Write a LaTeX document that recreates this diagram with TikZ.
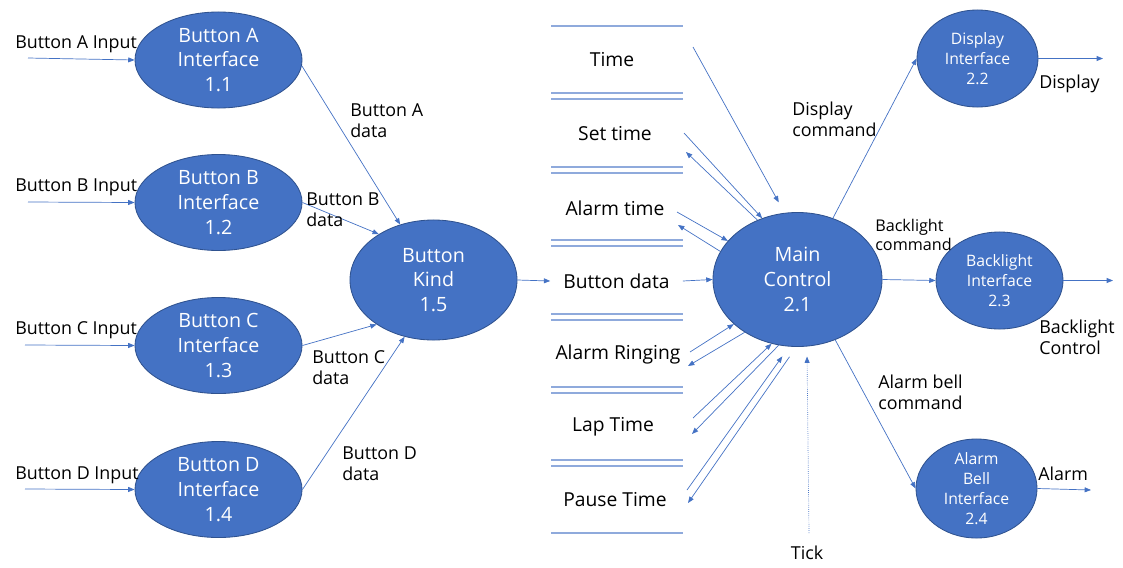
\documentclass[tikz,border=0pt]{standalone}
\usepackage{fontspec}
\setmainfont{Open Sans}
\usetikzlibrary{arrows.meta, shapes.geometric}
\definecolor{procblue}{RGB}{68, 114, 196}
\definecolor{procedge}{RGB}{47, 82, 143}
\definecolor{storeline}{RGB}{143, 170, 220}
\tikzset{
  proc/.style={ellipse, draw=procedge, line width=0.6pt, fill=procblue, inner sep=0pt},
  ifproc/.style={proc, minimum width=4.175cm, minimum height=2.4cm},
  ptext/.style={text=white, align=center, font=\fontsize{14}{17.7}\selectfont},
  sptext/.style={text=white, align=center, font=\fontsize{11.2}{14.2}\selectfont},
  flow/.style={draw=procblue, line width=0.5pt, -{Triangle[length=4.5pt, width=3.5pt]}},
  flabel/.style={align=left, anchor=west, inner sep=0pt, font=\fontsize{12.7}{14.9}\selectfont},
  store/.style={minimum width=3.3cm, inner sep=0pt, font=\fontsize{13.7}{16}\selectfont},
  sline/.style={draw=storeline, line width=0.8pt}
}

\begin{document}
\begin{tikzpicture}[x=0.025cm, y=-0.025cm]
  \useasboundingbox (0, 0) rectangle (1123, 567);

  % Button interfaces
  \node[ifproc, label={[ptext]center:{Button A\\Interface\\1.1}}] (ifA) at (218.5, 60) {};
  \node[ifproc, label={[ptext]center:{Button B\\Interface\\1.2}}] (ifB) at (218.5, 202.5) {};
  \node[ifproc, label={[ptext]center:{Button C\\Interface\\1.3}}] (ifC) at (218.5, 345.5) {};
  \node[ifproc, label={[ptext]center:{Button D\\Interface\\1.4}}] (ifD) at (218.5, 489.5) {};

  % Button kind and main control
  \node[proc, minimum width=4.175cm, minimum height=3cm, label={[ptext]center:{Button\\Kind\\1.5}}] (kind) at (433.5, 280) {};
  \node[proc, minimum width=4.225cm, minimum height=3.35cm, label={[ptext]center:{Main\\Control\\2.1}}] (main) at (797.5, 279.5) {};

  % Output interfaces
  \node[proc, minimum width=3.025cm, minimum height=2.425cm, label={[sptext]center:{Display\\Interface\\2.2}}] (disp) at (977.5, 58.5) {};
  \node[proc, minimum width=3.175cm, minimum height=2.425cm, label={[sptext]center:{Backlight\\Interface\\2.3}}] (back) at (999.5, 280.5) {};
  \node[proc, minimum width=3.025cm, minimum height=2.475cm, label={[sptext]center:{Alarm\\Bell\\Interface\\2.4}}] (bell) at (976.5, 488.5) {};

  % Data stores
  \draw[sline] (551, 26) -- (683, 26);
  \foreach \y in {93, 167, 240, 314, 387, 460} {
    \draw[sline] (551, \y) -- (683, \y);
    \draw[sline] (551, \y+6) -- (683, \y+6);
  }
  \draw[sline] (551, 533) -- (683, 533);
  \node[store] (sTime) at (612, 60) {Time};
  \node[store] (sSet) at (615, 134) {Set time};
  \node[store] (sAlarm) at (615, 208) {Alarm time};
  \node[store] (sData) at (616.5, 281) {Button data};
  \node[store] (sRing) at (618, 354) {Alarm Ringing};
  \node[store] (sLap) at (613, 427) {Lap Time};
  \node[store] (sPause) at (615, 500) {Pause Time};

  % Free ends
  \coordinate (inA) at (28, 58);
  \coordinate (inB) at (28, 202);
  \coordinate (inC) at (25, 345);
  \coordinate (inD) at (25, 489);
  \coordinate (dispOut) at (1103, 58.5);
  \coordinate (backOut) at (1113, 280.5);
  \coordinate (bellOut) at (1091, 490);
  \coordinate (tick) at (809, 533);
  \coordinate (timeOut) at (693, 47);
  \coordinate (setOut) at (684, 133);
  \coordinate (setIn) at (686, 152);
  \coordinate (alarmOut) at (677, 212);
  \coordinate (alarmIn) at (678, 225);
  \coordinate (ringOut) at (690, 352);
  \coordinate (ringIn) at (688, 366);
  \coordinate (lapOut) at (693, 418);
  \coordinate (lapIn) at (692, 434);
  \coordinate (pauseOut) at (687, 490);
  \coordinate (pauseIn) at (688, 503);

  % Inputs
  \draw[flow] (inA) -- (ifA.west);
  \draw[flow] (inB) -- (ifB.west);
  \draw[flow] (inC) -- (ifC.west);
  \draw[flow] (inD) -- (ifD.west);
  \node[flabel] (lInA) at (15, 44) {Button A Input};
  \node[flabel] (lInB) at (15, 187) {Button B Input};
  \node[flabel] (lInC) at (15, 330) {Button C Input};
  \node[flabel] (lInD) at (15, 475) {Button D Input};

  % Interfaces to button kind
  \draw[flow] (ifA.-4) -- (kind.121);
  \draw[flow] (ifB.east) -- (kind.140);
  \draw[flow] (ifC.east) -- (kind.218);
  \draw[flow] (ifD.east) -- (kind.243);
  \node[flabel] (lA) at (350, 121) {Button A\\data};
  \node[flabel] (lB) at (306, 210) {Button B\\data};
  \node[flabel] (lC) at (312, 368) {Button C\\data};
  \node[flabel] (lD) at (342, 464) {Button D\\data};

  % Stores and main control
  \draw[flow] (kind.east) -- (sData.west);
  \draw[flow] (sData.east) -- (main.west);
  \draw[flow, shorten >=0.3cm] (timeOut) -- (main.101);
  \draw[flow] (setOut) -- (main.120);
  \draw[flow] (main.124) -- (setIn);
  \draw[flow] (alarmOut) -- (main.151);
  \draw[flow] (main.160) -- (alarmIn);
  \draw[flow] (ringOut) -- (main.215);
  \draw[flow] (main.225) -- (ringIn);
  \draw[flow] (lapOut) -- (main.248);
  \draw[flow] (main.254) -- (lapIn);
  \draw[flow, shorten >=0.3cm] (pauseOut) -- (main.263);
  \draw[flow, shorten <=0.3cm] (main.269) -- (pauseIn);
  \draw[flow, densely dotted, shorten >=0.25cm] (tick) -- (main.278);
  \node[font=\fontsize{12.7}{14.9}\selectfont] (lTick) at (807, 553) {Tick};

  % Main control to outputs
  \draw[flow] (main.60) -- (disp.west);
  \draw[flow] (main.east) -- (back.west);
  \draw[flow] (main.-58) -- (bell.west);
  \node[flabel] (lDisp) at (792, 119) {Display\\command};
  \node[flabel, font=\fontsize{11.5}{13.5}\selectfont] (lBack) at (875, 235) {Backlight\\command};
  \node[flabel] (lBell) at (878, 392) {Alarm bell\\command};

  % Outputs
  \draw[flow] (disp.east) -- (dispOut);
  \draw[flow] (back.east) -- (backOut);
  \draw[flow] (bell.east) -- (bellOut);
  \node[flabel] (lDispOut) at (1039, 84) {Display};
  \node[flabel] (lBackOut) at (1039, 337) {Backlight\\Control};
  \node[flabel] (lBellOut) at (1038, 474) {Alarm};
\end{tikzpicture}
\end{document}
